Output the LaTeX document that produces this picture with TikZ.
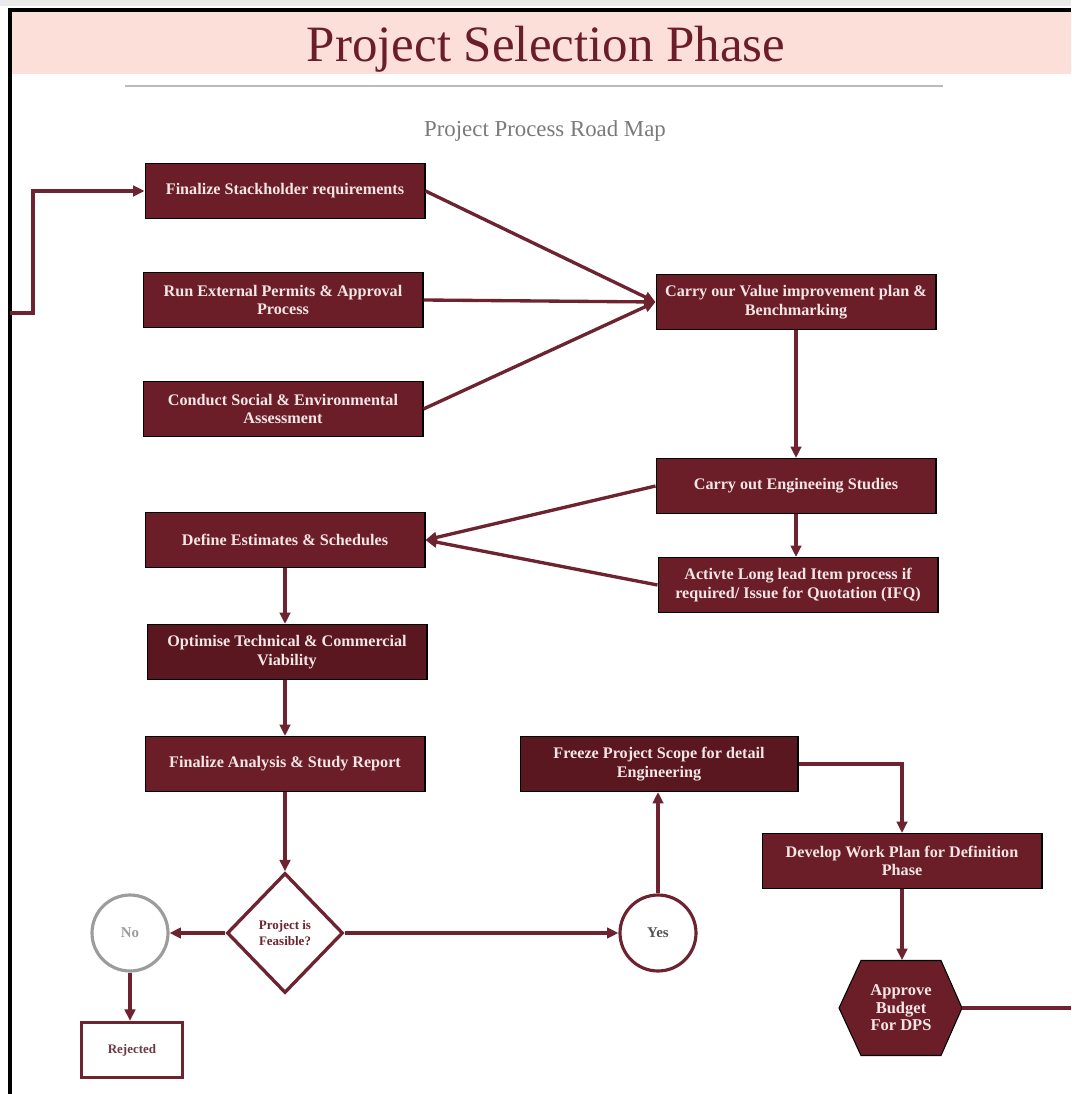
\documentclass[tikz,border=0pt]{standalone}
\usepackage{fontspec}
\setmainfont{Liberation Serif}
\usetikzlibrary{shapes.geometric,arrows.meta,calc}

\definecolor{maroon}{HTML}{6B1E28}
\definecolor{deepmaroon}{HTML}{5A1720}
\definecolor{linered}{HTML}{6E2430}
\definecolor{bandpink}{HTML}{FDDFDA}
\definecolor{boxtext}{HTML}{F4E6E6}
\definecolor{rulegray}{HTML}{B8BCBC}
\definecolor{subgray}{HTML}{7A7A7A}
\definecolor{circgray}{HTML}{9C9C9C}
\definecolor{darktext}{HTML}{555555}
\definecolor{rejtext}{HTML}{6B3A45}

\begin{document}
\begin{tikzpicture}[x=0.02cm,y=-0.02cm,
  stepbox/.style={rectangle, draw=black, line width=0.6pt, fill=maroon,
    text=boxtext, font=\fontsize{9.2}{10.6}\selectfont\bfseries, align=center,
    minimum width=5.6cm, minimum height=1.1cm, inner sep=0pt},
  darkbox/.style={stepbox, fill=deepmaroon},
  flow/.style={draw=linered, line width=1.9pt,
    -{Triangle[length=6.5pt,width=6pt]}},
  plainflow/.style={draw=linered, line width=1.9pt},
  decision/.style={diamond, draw=linered, line width=1.9pt, fill=white,
    minimum width=2.32cm, minimum height=2.4cm, inner sep=0pt,
    text=linered, align=center, font=\fontsize{7.4}{8.8}\selectfont\bfseries},
  answer/.style={circle, line width=1.8pt, fill=white, minimum size=1.52cm,
    inner sep=0pt, font=\fontsize{8.5}{9}\selectfont\bfseries},
]
% page frame and heading band
\useasboundingbox (0,0) rectangle (1071,1094);
\fill[white] (0,0) rectangle (1071,1094);
\fill[black!8] (0,0) rectangle (1071,6);
\fill[bandpink] (11,11) rectangle (1071,74);
\draw[black, line width=1.8pt] (10,1094) -- (10,10) -- (1071,10);

\node[anchor=base, text=maroon, font=\fontsize{29}{30}\selectfont] (title)
  at (546,62) {Project Selection Phase};
\draw[rulegray, line width=1pt] (125,86) -- (943,86);
\node[anchor=base, text=subgray, font=\fontsize{13}{14}\selectfont] (subtitle)
  at (545,137) {Project Process Road Map};

% process steps
\node[stepbox] (fsr) at (285,191) {Finalize Stackholder requirements};
\node[stepbox] (rep) at (283,300) {Run External Permits \& Approval\\Process};
\node[stepbox] (cse) at (283,409) {Conduct Social \& Environmental\\Assessment};
\node[stepbox] (vip) at (796,302) {Carry our Value improvement plan \&\\Benchmarking};
\node[stepbox] (ces) at (796,486) {Carry out Engineeing Studies};
\node[stepbox] (lli) at (798,585) {Activte Long lead Item process if\\required/ Issue for Quotation (IFQ)};
\node[stepbox] (des) at (285,540) {Define Estimates \& Schedules};
\node[darkbox] (otc) at (287,652) {Optimise Technical \& Commercial\\Viability};
\node[stepbox] (fas) at (285,764) {Finalize Analysis \& Study Report};
\node[darkbox, minimum width=5.56cm] (fps) at (659,764) {Freeze Project Scope for detail\\Engineering};
\node[stepbox] (dwp) at (902,861) {Develop Work Plan for Definition\\Phase};

% decision and outcomes
\node[decision] (feas) at (285,933) {Project is\\Feasible?};
\node[answer, draw=circgray, text=circgray] (no) at (130,933) {No};
\node[answer, draw=linered, text=darktext] (yes) at (658,933) {Yes};
\node[rectangle, draw=linered, line width=1.9pt, fill=white,
  minimum width=2.02cm, minimum height=1.1cm, inner sep=0pt,
  text=rejtext, font=\fontsize{7.4}{8}\selectfont\bfseries] (rej) at (132,1050) {Rejected};

% budget approval hexagon
\coordinate (hexc) at (901,1008);
\filldraw[fill=maroon, draw=black, line width=0.6pt]
  ($(hexc)+(-40,-47.5)$) -- ($(hexc)+(40,-47.5)$) -- ($(hexc)+(61,0)$)
  -- ($(hexc)+(40,47.5)$) -- ($(hexc)+(-40,47.5)$) -- ($(hexc)+(-62,0)$) -- cycle;
\node[rectangle, minimum width=2.44cm, minimum height=1.9cm, inner sep=0pt,
  text=boxtext, align=center, font=\fontsize{9.4}{10}\selectfont\bfseries]
  (abd) at (hexc) {Approve\\Budget\\For DPS};

% connectors
\coordinate (loopin) at (10,313);
\draw[flow] (loopin) -- ++(23,0) |- (fsr.west);
\draw[flow] (fsr.east) -- (vip.west);
\draw[flow] (rep.east) -- (vip.west);
\draw[flow] (cse.east) -- (vip.west);
\draw[flow] (vip.south) -- (ces.north);
\draw[flow] (ces.south) -- (ces.south |- lli.north);
\draw[flow] (ces.west) -- (des.east);
\draw[flow] (lli.west) -- (des.east);
\draw[flow] (des.south) -- (des.south |- otc.north);
\draw[flow] (otc.south -| des.south) -- (des.south |- fas.north);
\draw[flow] (fas.south) -- (feas.north);
\draw[flow] (feas.west) -- (no.east);
\draw[flow] (no.south) -- (no.south |- rej.north);
\draw[flow] (feas.east) -- (yes.west);
\draw[flow] (yes.north) -- (yes.north |- fps.south);
\draw[flow] (fps.east) -| (dwp.north);
\draw[flow] (dwp.south) -- (dwp.south |- abd.north);
\coordinate (exitright) at (1071,1008);
\draw[plainflow] (abd.east) -- (exitright);
\end{tikzpicture}
\end{document}
